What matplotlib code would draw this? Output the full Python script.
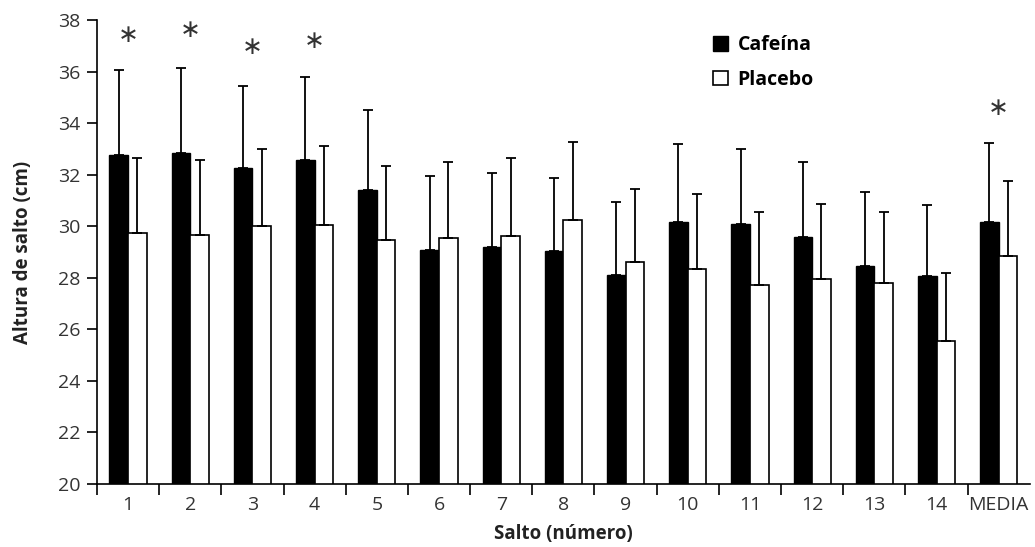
import numpy as np
import matplotlib.pyplot as plt

plt.rcParams['font.family'] = ['Open Sans', 'DejaVu Sans']

saltos = ['1', '2', '3', '4', '5', '6', '7', '8', '9', '10', '11', '12', '13', '14', 'MEDIA']
cafeina = [32.75, 32.85, 32.25, 32.55, 31.4, 29.08, 29.2, 29.02, 28.1, 30.15, 30.08, 29.58, 28.45, 28.07, 30.16]
cafeina_sd = [3.3, 3.3, 3.18, 3.25, 3.1, 2.86, 2.88, 2.87, 2.84, 3.05, 2.91, 2.92, 2.86, 2.77, 3.07]
placebo = [29.75, 29.66, 30.0, 30.03, 29.45, 29.55, 29.63, 30.24, 28.6, 28.33, 27.73, 27.95, 27.79, 25.56, 28.85]
placebo_sd = [2.88, 2.9, 3.0, 3.07, 2.87, 2.95, 3.0, 3.03, 2.85, 2.91, 2.81, 2.9, 2.75, 2.61, 2.9]
# asteriscos de significacion
signif = {0: 37.4, 1: 37.6, 2: 36.95, 3: 37.2, 14: 34.6}

x = np.arange(len(saltos))
w = 0.3

fig = plt.figure(figsize=(10.35, 5.47), dpi=100)
ax = fig.add_axes([0.0937, 0.1152, 0.9013, 0.8482])

ax.bar(x - w / 2, cafeina, w, color='black', edgecolor='black', linewidth=1.0,
       yerr=[np.zeros(len(x)), cafeina_sd], capsize=3.5,
       error_kw=dict(elinewidth=1.3, capthick=1.3, ecolor='black'), label='Cafeína')
ax.bar(x + w / 2, placebo, w, color='white', edgecolor='black', linewidth=1.2,
       yerr=[np.zeros(len(x)), placebo_sd], capsize=3.5,
       error_kw=dict(elinewidth=1.3, capthick=1.3, ecolor='black'), label='Placebo')

for i, yv in signif.items():
    ax.text(i, yv, '\u2217', ha='center', va='center', fontsize=18, color='#333333',
            family='DejaVu Sans')

ax.set_xlim(-0.5, 14.5)
ax.set_ylim(20, 38)
ax.set_yticks(np.arange(20, 39, 2))
ax.set_xticks(np.arange(-0.5, 14.5, 1))
ax.set_xticklabels([])
ax.set_xticks(x, minor=True)
ax.set_xticklabels(saltos, minor=True)
ax.tick_params(axis='x', which='major', length=8, width=1.2, direction='out')
ax.tick_params(axis='x', which='minor', length=0, pad=9)
ax.tick_params(axis='y', length=7, width=1.2, direction='out', pad=5)
ax.tick_params(which='both', labelsize=14, labelcolor='#333333')

for s in ['top', 'right']:
    ax.spines[s].set_visible(False)
for s in ['left', 'bottom']:
    ax.spines[s].set_linewidth(1.2)

ax.set_xlabel('Salto (número)', fontsize=13.5, fontweight='bold', color='#222222', labelpad=7)
ax.set_ylabel('Altura de salto (cm)', fontsize=13.5, fontweight='bold', color='#222222', labelpad=18)

ax.legend(loc='upper left', bbox_to_anchor=(0.642, 1.005), frameon=False,
          prop={'weight': 'bold', 'size': 14}, handlelength=0.75, handleheight=0.75,
          handletextpad=0.5, labelspacing=0.75)

fig.savefig('out.png', dpi=100)
